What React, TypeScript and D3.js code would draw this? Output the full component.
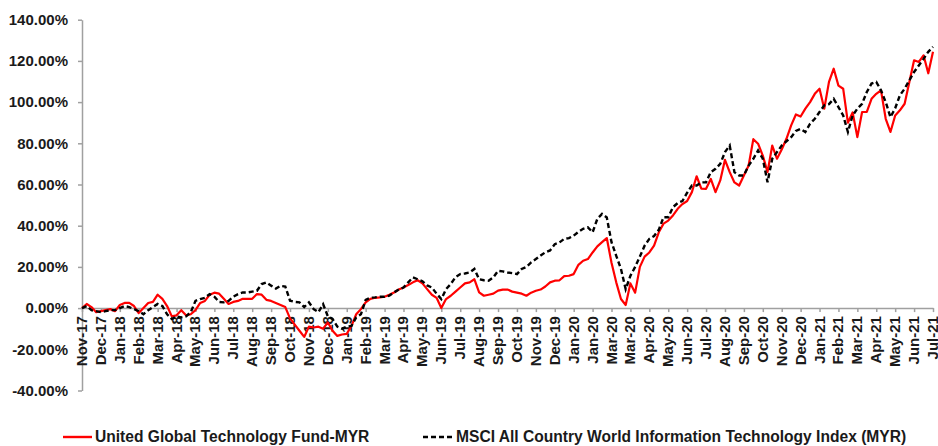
import { useEffect, useRef } from "react";
import * as d3 from "d3";

// month labels as Excel printed them (30-day major unit, so Jan-20 / Mar-20 repeat)
const xLabels = [
  "Nov-17", "Dec-17",
  "Jan-18", "Feb-18", "Mar-18", "Apr-18", "May-18", "Jun-18", "Jul-18", "Aug-18", "Sep-18", "Oct-18", "Nov-18", "Dec-18",
  "Jan-19", "Feb-19", "Mar-19", "Apr-19", "May-19", "Jun-19", "Jul-19", "Aug-19", "Sep-19", "Oct-19", "Nov-19", "Dec-19",
  "Jan-20", "Jan-20", "Mar-20", "Mar-20", "Apr-20", "May-20", "Jun-20", "Jul-20", "Aug-20", "Sep-20", "Oct-20", "Nov-20", "Dec-20",
  "Jan-21", "Feb-21", "Mar-21", "Apr-21", "May-21", "Jun-21", "Jul-21",
];

const yTicks = [-40, -20, 0, 20, 40, 60, 80, 100, 120, 140];

// weekly readings, 4 per label interval
const fundReturn = [
  0, 2, 0.5, -2,
  -1.5, -1, -0.5, -1.5,
  1.5, 2.5, 2.5, 1,
  -2.4, 0, 2.5, 3,
  6.5, 4.5, 1, -4,
  -3.5, -1, -3.5, -3,
  -1, 2.5, 3.5, 6.5,
  7.5, 7, 4.5, 2,
  3, 3.5, 4.5, 4.5,
  4.5, 6.8, 6.5, 4,
  3.5, 2.5, 1.5, 0.5,
  -5, -8, -11, -14,
  -9, -9.4, -9, -10,
  -7, -11, -13.5, -12.8,
  -12.5, -8.6, -3, -0.5,
  2.8, 4.5, 5, 5.2,
  5.5, 6.5, 7.6, 9,
  10, 11.2, 12.5, 13.5,
  12, 9.2, 6.5, 5,
  0, 4.4, 6, 8,
  10, 12, 12.5, 14,
  7.6, 6, 6.5, 7,
  8.5, 9, 9, 8,
  7.5, 7, 6, 7.5,
  8.4, 9, 10.5, 12.5,
  13.3, 13.5, 15.5, 15.7,
  16.5, 21, 23, 23.8,
  27, 30, 32, 34,
  22, 12.5, 4.4, 1.5,
  12, 7.5, 20, 25,
  27, 30.3, 36.8, 41,
  42.5, 45, 48.2, 50.5,
  52, 56.3, 64, 58,
  57.9, 62.7, 56.3, 62,
  72, 66, 61, 59.5,
  64.4, 69.2, 82, 79.8,
  74, 66, 78.9, 72.5,
  77, 82.2, 88.7, 94,
  93, 96.8, 100, 104,
  106.5, 96.8, 109.8, 116.2,
  108, 106.5, 90, 95,
  83, 95.2, 95.2, 101.6,
  104, 105.7, 91.9, 85.5,
  93.5, 96, 99.2, 109.8,
  120.3, 119.5, 122.7, 114,
  124.4,
];

const indexReturn = [
  0, 1, -1, -1.5,
  -2, -1.5, -1, -1,
  0, 1, 0.5, -0.5,
  -1.5, -3, -1, 0.5,
  2, 1, -3, -5.3,
  -4, -4.5, -4, -2,
  3.5, 4.4, 5, 6.8,
  5.5, 3, 2.8, 3.5,
  5.5, 6.8, 7.6, 7.6,
  8, 8.4, 11.7, 12.5,
  10.9, 9.5, 10.8, 10.5,
  3.6, 3, 2.8, 0.5,
  2.8, -0.5, -2, 1.9,
  -4, -5.3, -9, -10,
  -9, -8.6, -4.5, -3,
  4, 5, 5.2, 5.5,
  5.5, 6, 7.6, 9,
  10, 12.5, 14.9, 14,
  13, 11, 10, 7,
  4.4, 9.2, 11.7, 15,
  16.5, 16.8, 17.3, 19,
  14, 13.5, 13.3, 14.9,
  18.1, 17.8, 17.3, 17,
  16.5, 19, 20, 22.2,
  23.8, 25.5, 27.1, 28,
  31, 31.9, 33.6, 34,
  35.2, 37, 38.5, 39.2,
  36.8, 43.3, 45.7, 44,
  32, 25.4, 19, 9.2,
  15.7, 20, 25, 30.3,
  33.6, 35, 38, 44.1,
  44.1, 49, 51, 52,
  56, 59.5, 59.5, 61,
  61.1, 66, 67.6, 70,
  75.7, 78.9, 66, 64.4,
  64.4, 69.2, 72.5, 76.5,
  72.5, 61.1, 72.5, 75.7,
  78.9, 81, 83, 86,
  87, 85.5, 89.5, 91.9,
  95.2, 98.4, 99, 101.6,
  97.6, 93.5, 85.5, 93.5,
  96.8, 99.2, 104.9, 109,
  109.8, 105.7, 100, 92.7,
  97, 103.3, 106.5, 110.6,
  114.6, 117.8, 121, 124.4,
  126.8,
];

const fundName = "United Global Technology Fund-MYR";
const indexName = "MSCI All Country World Information Technology Index (MYR)";

const W = 938;
const H = 446;
const FONT = "'Liberation Sans', Arial, sans-serif";

const App = () => {
  const svgRef = useRef<SVGSVGElement>(null);

  useEffect(() => {
    const svg = d3.select(svgRef.current);
    svg.selectAll("*").remove();

    const x = d3.scaleLinear().domain([0, xLabels.length - 1]).range([82, 933]);
    const y = d3.scaleLinear().domain([-40, 140]).range([390.5, 19.7]);
    const step = 0.25;

    // y axis
    const yAxis = svg
      .append("g")
      .attr("transform", "translate(82,0)")
      .call(
        d3
          .axisLeft(y)
          .tickValues(yTicks)
          .tickFormat((d) => `${(d as number).toFixed(2)}%`)
          .tickSize(4)
          .tickSizeOuter(0)
          .tickPadding(10)
      );
    yAxis.select(".domain").attr("stroke", "#a0a0a0").attr("stroke-width", 1.5);
    yAxis.selectAll(".tick line").attr("stroke", "#a0a0a0").attr("stroke-width", 1.5);
    yAxis
      .selectAll("text")
      .style("font-family", FONT)
      .style("font-size", "15px")
      .style("font-weight", "bold")
      .attr("fill", "#1a1a1a");

    // x axis on the zero line
    const xAxis = svg
      .append("g")
      .attr("transform", `translate(0,${y(0)})`)
      .call(
        d3
          .axisBottom(x)
          .tickValues(d3.range(xLabels.length))
          .tickFormat((i) => xLabels[i as number])
          .tickSize(4)
          .tickSizeOuter(0)
      );
    xAxis.select(".domain").attr("stroke", "#a0a0a0").attr("stroke-width", 1.5);
    xAxis.selectAll(".tick line").attr("stroke", "#a0a0a0").attr("stroke-width", 1.5);
    xAxis
      .selectAll("text")
      .attr("transform", "rotate(-90)")
      .attr("x", -8)
      .attr("y", 0)
      .attr("dy", "0.3em")
      .style("text-anchor", "end")
      .style("font-family", FONT)
      .style("font-size", "15px")
      .style("font-weight", "bold")
      .attr("fill", "#1a1a1a");

    const line = d3
      .line<number>()
      .x((d, i) => x(i * step))
      .y((d) => y(d));

    svg
      .append("path")
      .datum(fundReturn)
      .attr("d", line)
      .attr("fill", "none")
      .attr("stroke", "#ff0000")
      .attr("stroke-width", 2.2)
      .attr("stroke-linejoin", "round");

    svg
      .append("path")
      .datum(indexReturn)
      .attr("d", line)
      .attr("fill", "none")
      .attr("stroke", "#000")
      .attr("stroke-width", 2.4)
      .attr("stroke-dasharray", "5,3");

    // legend
    const legend = svg.append("g").style("font-family", FONT).style("font-size", "15.6px").style("font-weight", "bold");
    legend.append("line").attr("x1", 63).attr("x2", 92).attr("y1", 437).attr("y2", 437)
      .attr("stroke", "#ff0000").attr("stroke-width", 2.4);
    legend.append("text").attr("x", 95).attr("y", 437).attr("dy", "0.35em").attr("fill", "#1a1a1a").text(fundName);
    legend.append("line").attr("x1", 423).attr("x2", 453).attr("y1", 437).attr("y2", 437)
      .attr("stroke", "#000").attr("stroke-width", 2.4).attr("stroke-dasharray", "5,3");
    legend.append("text").attr("x", 456).attr("y", 437).attr("dy", "0.35em").attr("fill", "#1a1a1a").text(indexName);
  }, []);

  return (
    <svg
      ref={svgRef}
      width={W}
      height={H}
      viewBox={`0 0 ${W} ${H}`}
      style={{ position: "absolute", left: 0, top: 0, background: "#fff" }}
    ></svg>
  );
};

export default App;
